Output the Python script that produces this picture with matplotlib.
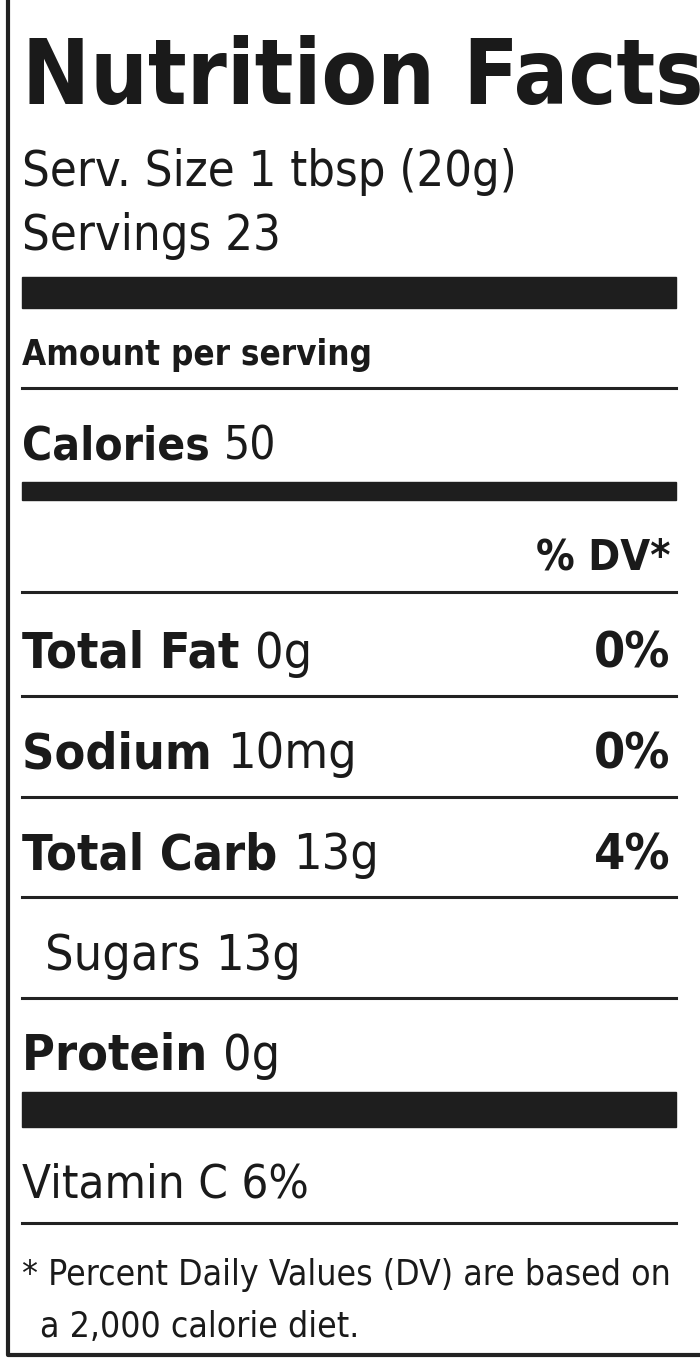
import matplotlib
matplotlib.use('Agg')
import matplotlib.pyplot as plt
from matplotlib.patches import Rectangle

# label content
title = "Nutrition Facts"
serving_size = "Serv. Size 1 tbsp (20g)"
servings = "Servings 23"
calories = 50
nutrients = ["Total Fat", "Sodium", "Total Carb", "Sugars", "Protein"]
amounts = ["0g", "10mg", "13g", "13g", "0g"]
dv = ["0%", "0%", "4%", "", ""]
indented = [False, False, False, True, False]
vitamins = ["Vitamin C 6%"]
footnote = ["* Percent Daily Values (DV) are based on", "a 2,000 calorie diet."]

FAM = "DejaVu Sans"
INK = '#1a1a1a'
fig = plt.figure(figsize=(7, 13.65), dpi=100)
ax = fig.add_axes([0, 0, 1, 1])
ax.set_xlim(0, 700)
ax.set_ylim(1365, 0)
ax.axis('off')

L, R = 22, 676
# border
ax.plot([8, 8, 700], [0, 1355, 1355], color='#222', lw=3)

def bar(y0, y1):
    ax.add_patch(Rectangle((L, y0), R - L, y1 - y0, color='#1e1e1e'))

def rule(y):
    ax.plot([L, R], [y, y], color='#222', lw=2.2)

def txt(x, y, s, size, bold=False, ha='left'):
    return ax.text(x, y, s, fontsize=size, fontweight='bold' if bold else 'normal',
                   family=FAM, fontstretch='condensed', ha=ha, va='baseline', color=INK)

def pair(x, y, label, value, size, bold_label=True):
    t = txt(x, y, label + " ", size, bold=bold_label)
    ax.annotate(value, xycoords=t, xy=(1, 0), va='bottom', fontsize=size,
                family=FAM, fontstretch='condensed', color=INK)

txt(L, 104, title, 65, bold=True)
txt(L, 186, serving_size, 35)
txt(L, 250, servings, 35)
bar(277, 308)
txt(L, 365, "Amount per serving", 25, bold=True)
rule(388)
pair(L, 460, "Calories", str(calories), 33)
bar(482, 500)
txt(670, 570, "% DV*", 31, bold=True, ha='right')
rule(592)

base = 668
step = 100.5
for i, (n, a, d, ind) in enumerate(zip(nutrients, amounts, dv, indented)):
    y = base + i * step
    x = 45 if ind else L
    pair(x, y, n, a, 36, bold_label=not ind)
    if d:
        txt(670, y, d, 36, bold=True, ha='right')
    if i < len(nutrients) - 1:
        rule(y + 28)

bar(1092, 1127)
for j, v in enumerate(vitamins):
    txt(L, 1198 + j * 60, v, 34)
rule(1223)
txt(L, 1285, footnote[0], 25.5)
txt(40, 1337, footnote[1], 25.5)

fig.savefig("out.png", dpi=100)
